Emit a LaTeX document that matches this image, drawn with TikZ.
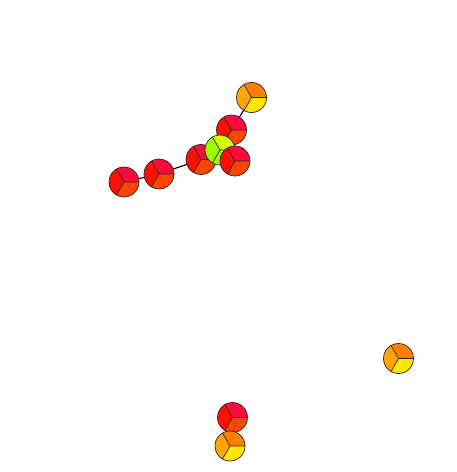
\documentclass[tikz,border=0pt]{standalone}
\usepackage{xcolor}
\definecolor{pie-crimson}{HTML}{FF0A3A}
\definecolor{pie-red}{HTML}{FF0F00}
\definecolor{pie-vermil}{HTML}{FF4500}
\definecolor{pie-orange}{HTML}{FF8000}
\definecolor{pie-amber}{HTML}{FFA600}
\definecolor{pie-yellow}{HTML}{FFE600}
\definecolor{pie-lime}{HTML}{D4FF00}
\definecolor{pie-green}{HTML}{99FF00}
\definecolor{pie-leaf}{HTML}{B0F000}

\tikzset{
  pie/.style n args={3}{circle, draw=black!85, line width=0.7pt,
    minimum size=30pt, inner sep=0pt,
    path picture={
      \coordinate (pc) at (path picture bounding box.center);
      \fill[#1] (pc) -- ++(0:16pt) arc (0:120:16pt) -- cycle;
      \fill[#2] (pc) -- ++(120:16pt) arc (120:240:16pt) -- cycle;
      \fill[#3] (pc) -- ++(240:16pt) arc (240:360:16pt) -- cycle;
      \draw[black!85, line width=0.7pt]
        (pc) -- ++(0:16pt) (pc) -- ++(120:16pt) (pc) -- ++(240:16pt);
    }},
  redpie/.style={pie={pie-crimson}{pie-red}{pie-vermil}},
  orangepie/.style={pie={pie-orange}{pie-amber}{pie-yellow}},
  greenpie/.style={pie={pie-lime}{pie-green}{pie-leaf}},
  link/.style={draw=black, line width=1.1pt}
}

\begin{document}
\begin{tikzpicture}[x=1pt, y=-1pt]
  \useasboundingbox[fill=white] (0,0) rectangle (457,472);

  % links first, nodes on top
  \coordinate (a) at (251.5,97.5);
  \coordinate (b) at (231.5,130);
  \coordinate (e) at (201,159.5);
  \coordinate (f) at (159,174);
  \coordinate (g) at (124,182);
  \draw[link] (a) -- (b);
  \draw[link] (e) -- (f) -- (g);

  \node[orangepie] (na) at (a) {};
  \node[redpie] (nb) at (b) {};
  \node[redpie] (ne) at (e) {};
  \node[redpie] (nf) at (f) {};
  \node[redpie] (ng) at (g) {};
  \node[greenpie] (nc) at (220,150) {};
  \node[redpie] (nd) at (235,161) {};

  \node[orangepie] (nh) at (398.5,358.5) {};
  \node[redpie] (ni) at (232.5,417.5) {};
  \node[orangepie] (nj) at (230,446) {};
\end{tikzpicture}
\end{document}
